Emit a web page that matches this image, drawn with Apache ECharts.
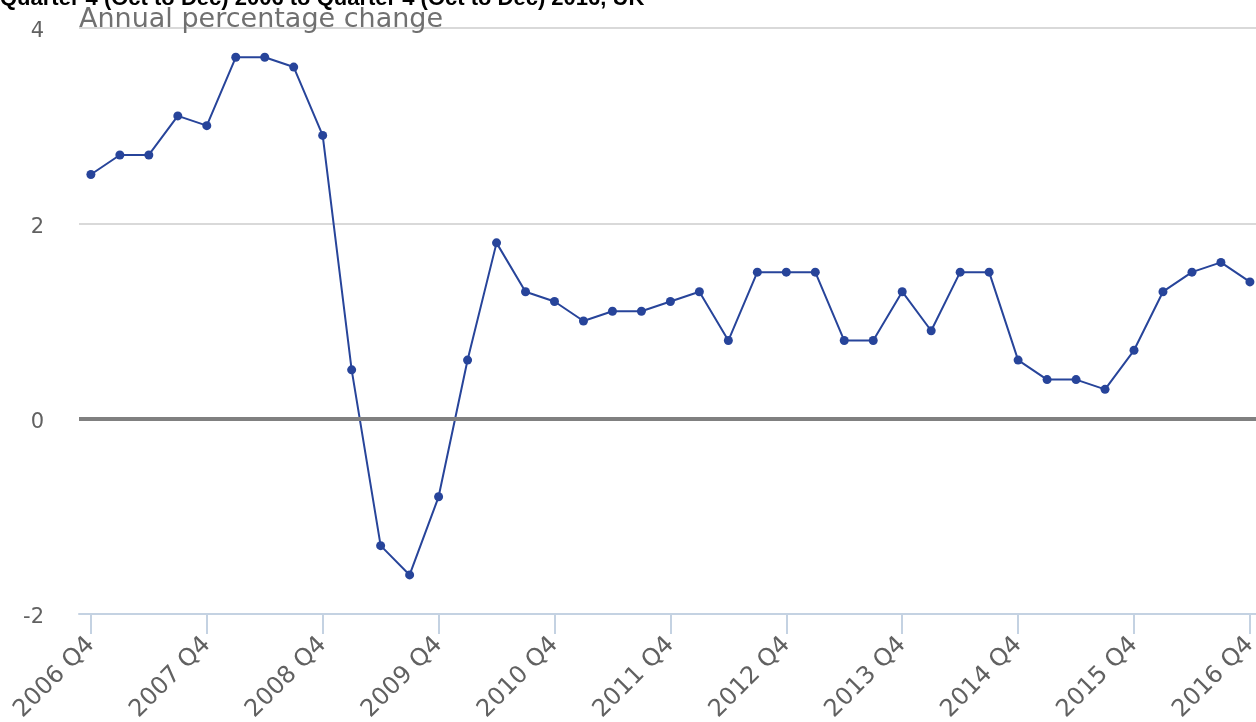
<!DOCTYPE html>
<html>
<head>
<meta charset="utf-8">
<script src="https://cdn.jsdelivr.net/npm/echarts@6/dist/echarts.min.js"></script>
<style>
  html, body { margin: 0; padding: 0; background: #fff; }
  #chart { width: 1256px; height: 722px; }
</style>
</head>
<body>
<div id="chart"></div>
<script>
// quarters 2006 Q4 .. 2016 Q4
const quarters = [
    '2006 Q4', '2007 Q1', '2007 Q2', '2007 Q3', '2007 Q4',
    '2008 Q1', '2008 Q2', '2008 Q3', '2008 Q4',
    '2009 Q1', '2009 Q2', '2009 Q3', '2009 Q4',
    '2010 Q1', '2010 Q2', '2010 Q3', '2010 Q4',
    '2011 Q1', '2011 Q2', '2011 Q3', '2011 Q4',
    '2012 Q1', '2012 Q2', '2012 Q3', '2012 Q4',
    '2013 Q1', '2013 Q2', '2013 Q3', '2013 Q4',
    '2014 Q1', '2014 Q2', '2014 Q3', '2014 Q4',
    '2015 Q1', '2015 Q2', '2015 Q3', '2015 Q4',
    '2016 Q1', '2016 Q2', '2016 Q3', '2016 Q4'
];

// annual percentage change
const changes = [
    2.5, 2.7, 2.7, 3.1, 3.0,
    3.7, 3.7, 3.6, 2.9,
    0.5, -1.3, -1.6, -0.8,
    0.6, 1.8, 1.3, 1.2,
    1.0, 1.1, 1.1, 1.2,
    1.3, 0.8, 1.5, 1.5,
    1.5, 0.8, 0.8, 1.3,
    0.9, 1.5, 1.5, 0.6,
    0.4, 0.4, 0.3, 0.7,
    1.3, 1.5, 1.6, 1.4
];

// only the Q4 quarters get a tick and a label
const tickIndexes = [0, 4, 8, 12, 16, 20, 24, 28, 32, 36, 40];
const yTicks = [-2, 0, 2, 4];

const chart = echarts.init(document.getElementById('chart'));

const option = {
    animation: false,
    textStyle: { fontFamily: 'DejaVu Sans' },
    title: [{
        text: 'Quarter 4 (Oct to Dec) 2006 to Quarter 4 (Oct to Dec) 2016, UK',
        left: 0,
        top: -12,
        padding: 0,
        textStyle: { fontFamily: 'Liberation Sans', fontWeight: 'bold', fontSize: 22, color: '#000' }
    }, {
        text: 'Annual percentage change',
        left: 79,
        top: 6,
        padding: 0,
        textStyle: { fontFamily: 'DejaVu Sans', fontWeight: 'normal', fontSize: 27, color: '#707070' }
    }],
    grid: {
        left: 79,
        right: 0,
        top: 28,
        bottom: 108,
        outerBoundsMode: 'none'
    },
    xAxis: {
        type: 'value',
        min: -0.41,
        max: 40.21,
        axisLine: { show: true, onZero: false, lineStyle: { color: '#c4d2e2', width: 2 } },
        axisTick: {
            show: true,
            customValues: tickIndexes,
            length: 20,
            lineStyle: { color: '#c4d2e2', width: 2 }
        },
        axisLabel: {
            customValues: tickIndexes,
            formatter: (v) => quarters[v] || '',
            rotate: 45,
            margin: 27,
            fontSize: 24,
            color: '#616161'
        },
        splitLine: { show: false }
    },
    yAxis: {
        type: 'value',
        min: -2,
        max: 4,
        interval: 2,
        axisLine: { show: false },
        axisTick: { show: false },
        axisLabel: {
            customValues: yTicks,
            fontSize: 21,
            color: '#616161',
            margin: 35,
            verticalAlign: 'top',
            lineHeight: 8
        },
        splitLine: {
            show: true,
            lineStyle: { color: '#d9d9d9', width: 2 }
        }
    },
    series: [{
        type: 'line',
        data: changes.map((v, i) => [i, v]),
        symbol: 'circle',
        symbolSize: 9,
        lineStyle: { color: '#27449a', width: 2 },
        itemStyle: { color: '#27449a' },
        markLine: {
            silent: true,
            symbol: 'none',
            label: { show: false },
            lineStyle: { color: '#808080', width: 4, type: 'solid' },
            data: [{ yAxis: 0 }]
        },
        z: 3
    }]
};

chart.setOption(option);
</script>
</body>
</html>
